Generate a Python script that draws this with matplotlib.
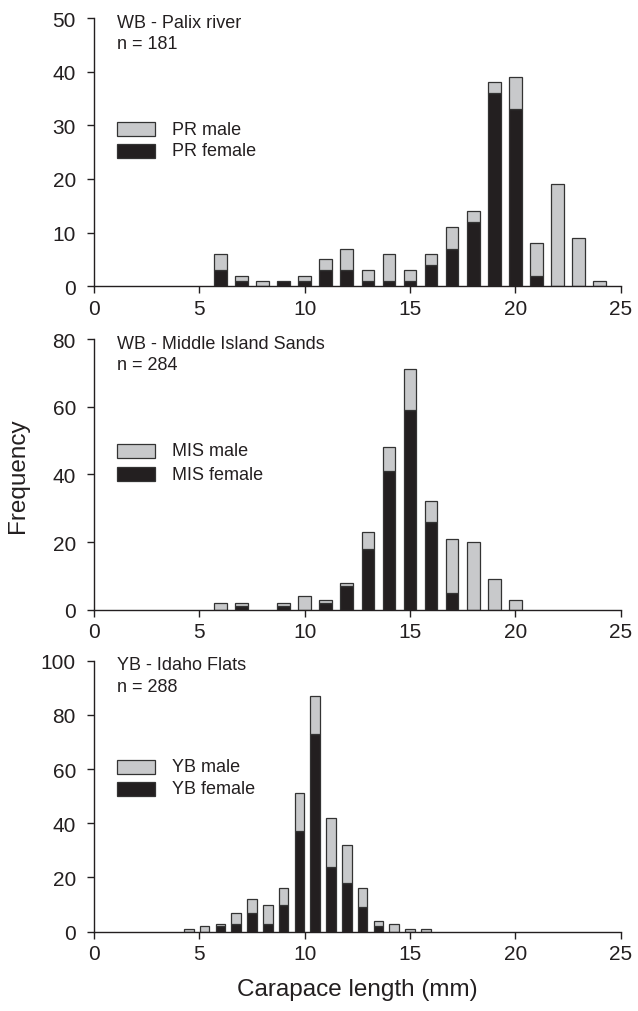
"""
plot.py -- carapace length frequency by site, stacked male/female bars.
"""
import numpy as np
import matplotlib
matplotlib.use("Agg")
import matplotlib.pyplot as plt
from matplotlib.patches import Rectangle

# WB - Palix river
PR_LEN = [6, 7, 8, 9, 10, 11, 12, 13, 14, 15, 16, 17, 18, 19, 20, 21, 22, 23, 24]
PR_FEMALE = [3, 1, 0, 1, 1, 3, 3, 1, 1, 1, 4, 7, 12, 36, 33, 2, 0, 0, 0]
PR_MALE = [3, 1, 1, 0, 1, 2, 4, 2, 5, 2, 2, 4, 2, 2, 6, 6, 19, 9, 1]

# WB - Middle Island Sands
MIS_LEN = [6, 7, 8, 9, 10, 11, 12, 13, 14, 15, 16, 17, 18, 19, 20]
MIS_FEMALE = [0, 1, 0, 1, 0, 2, 7, 18, 41, 59, 26, 5, 0, 0, 0]
MIS_MALE = [2, 1, 0, 1, 4, 1, 1, 5, 7, 12, 6, 16, 20, 9, 3]

# YB - Idaho Flats
YB_LEN = [4.5, 5.25, 6.0, 6.75, 7.5, 8.25, 9.0, 9.75, 10.5, 11.25, 12.0,
          12.75, 13.5, 14.25, 15.0, 15.75]
YB_FEMALE = [0, 0, 2, 3, 7, 3, 10, 37, 73, 24, 18, 9, 2, 0, 0, 0]
YB_MALE = [1, 2, 1, 4, 5, 7, 6, 14, 14, 18, 14, 7, 2, 3, 1, 1]

PANELS = [
    ("WB - Palix river", "n = 181", "PR", PR_LEN, PR_FEMALE, PR_MALE, 50, 10, 0.6),
    ("WB - Middle Island Sands", "n = 284", "MIS", MIS_LEN, MIS_FEMALE, MIS_MALE, 80, 20, 0.6),
    ("YB - Idaho Flats", "n = 288", "YB", YB_LEN, YB_FEMALE, YB_MALE, 100, 20, 0.45),
]

GREY = "#c8c9cb"
BLACK = "#231f20"
EDGE = "#333333"

plt.rcParams["font.family"] = ["Liberation Sans", "DejaVu Sans"]
plt.rcParams["text.color"] = BLACK
plt.rcParams["axes.labelcolor"] = BLACK

fig = plt.figure(figsize=(6.38, 10.12), dpi=100)
boxes = [(0.7161, 0.2651), (0.3965, 0.2675), (0.0784, 0.2678)]
legend_y = [(0.586, 0.506), (0.587, 0.501), (0.608, 0.527)]

for (title, ntxt, code, xs, fem, mal, ymax, ystep, w), (b, h), (ly1, ly2) in zip(
        PANELS, boxes, legend_y):
    ax = fig.add_axes([0.1473, b, 0.8256, h])
    xs = np.array(xs, dtype=float)
    fem = np.array(fem, dtype=float)
    mal = np.array(mal, dtype=float)

    kf = fem > 0
    ax.bar(xs[kf], fem[kf], width=w, color=BLACK, edgecolor=EDGE, lw=0.9,
           zorder=2)
    km = mal > 0
    ax.bar(xs[km], mal[km], bottom=fem[km], width=w, color=GREY,
           edgecolor=EDGE, lw=0.9, zorder=2)

    ax.set_xlim(0, 25)
    ax.set_ylim(0, ymax)
    ax.set_xticks(range(0, 26, 5))
    ax.set_yticks(range(0, ymax + 1, ystep))
    for s in ("top", "right"):
        ax.spines[s].set_visible(False)
    for s in ("left", "bottom"):
        ax.spines[s].set_linewidth(1.0)
        ax.spines[s].set_color(BLACK)
    ax.tick_params(axis="x", length=5, width=1.0, pad=4, labelsize=15,
                   colors=BLACK)
    ax.tick_params(axis="y", length=5, width=1.0, pad=8, labelsize=15,
                   colors=BLACK)

    ax.text(0.044, 0.985, title, transform=ax.transAxes, fontsize=13,
            va="center", ha="left")
    ax.text(0.044, 0.905, ntxt, transform=ax.transAxes, fontsize=13,
            va="center", ha="left")

    sh = 14 / (h * 1012)
    for yy, fc, lab in ((ly1, GREY, code + " male"),
                        (ly2, BLACK, code + " female")):
        ax.add_patch(Rectangle((0.0437, yy - sh / 2), 0.073, sh,
                               transform=ax.transAxes, fc=fc, ec=EDGE,
                               lw=0.9, clip_on=False))
        ax.text(0.148, yy, lab, transform=ax.transAxes, fontsize=13,
                va="center", ha="left")

fig.text(0.028, 0.53, "Frequency", rotation=90, fontsize=17.5,
         va="center", ha="center")
fig.text(0.56, 0.022, "Carapace length (mm)", fontsize=17.5,
         va="center", ha="center")

fig.savefig("out.png", dpi=100)
